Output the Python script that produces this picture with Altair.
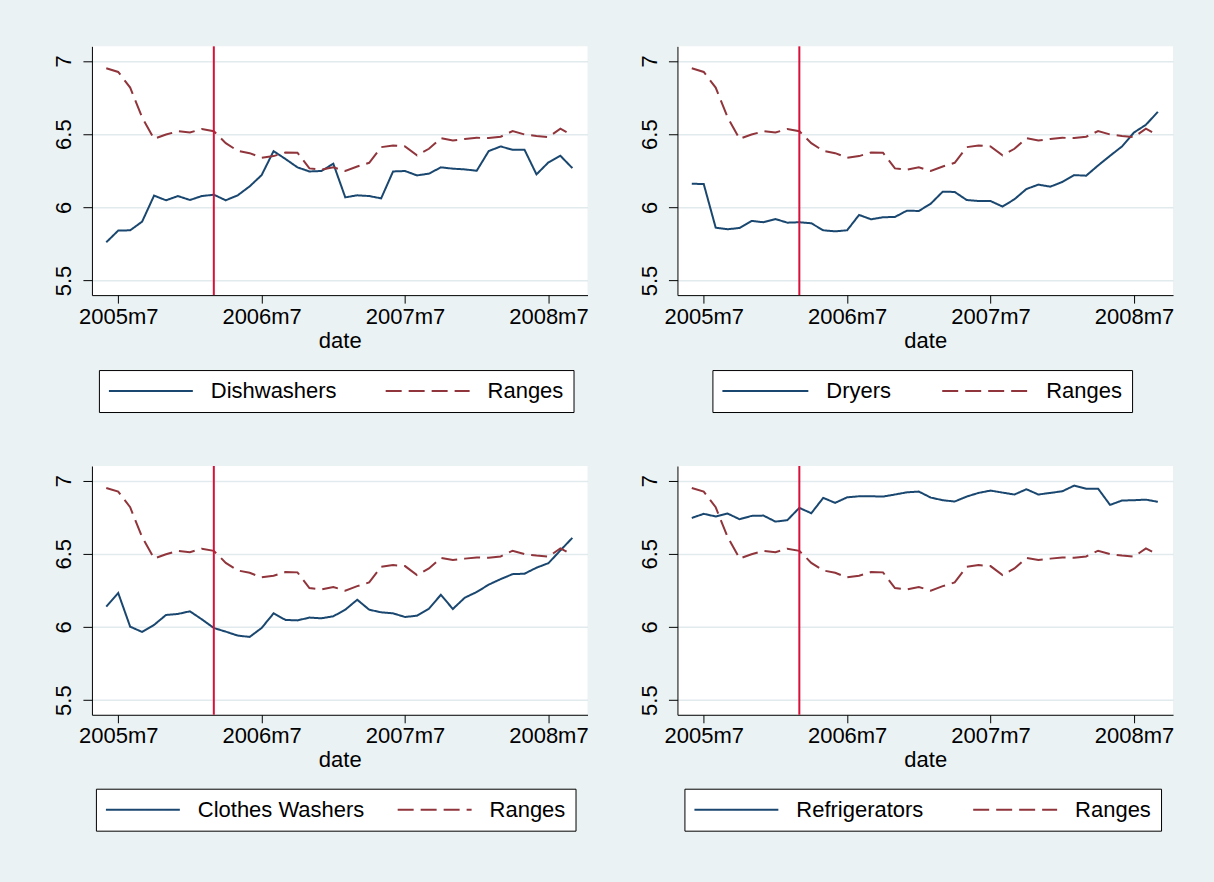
import altair as alt
import pandas as pd

# Stata monthly date codes (months since 1960m1): 2005m6 ... 2008m9
months = list(range(545, 585))
event_month = 554  # 2006m3

x_ticks = [546, 558, 570, 582]   # 2005m7, 2006m7, 2007m7, 2008m7
y_ticks = [5.5, 6, 6.5, 7]

# log price series
ranges = [6.950, 6.925, 6.818, 6.614, 6.468, 6.497, 6.520, 6.511, 6.535, 6.520,
          6.438, 6.386, 6.370, 6.339, 6.350, 6.375, 6.373, 6.266, 6.257, 6.273,
          6.248, 6.279, 6.304, 6.411, 6.423, 6.416, 6.355, 6.400, 6.472, 6.457,
          6.467, 6.475, 6.473, 6.482, 6.521, 6.498, 6.488, 6.480, 6.537, 6.493]

dishwashers = [5.761, 5.841, 5.843, 5.902, 6.080, 6.048, 6.077, 6.050, 6.077, 6.086,
               6.048, 6.082, 6.143, 6.220, 6.384, 6.330, 6.273, 6.245, 6.248, 6.298,
               6.068, 6.082, 6.077, 6.061, 6.245, 6.248, 6.218, 6.230, 6.273, 6.264,
               6.259, 6.250, 6.384, 6.416, 6.393, 6.393, 6.225, 6.307, 6.352, 6.268]

dryers = [6.161, 6.159, 5.861, 5.850, 5.859, 5.907, 5.898, 5.920, 5.895, 5.898,
          5.891, 5.843, 5.836, 5.843, 5.948, 5.918, 5.932, 5.934, 5.977, 5.975,
          6.025, 6.107, 6.105, 6.050, 6.043, 6.043, 6.005, 6.055, 6.125, 6.155,
          6.141, 6.173, 6.220, 6.216, 6.286, 6.352, 6.416, 6.511, 6.564, 6.652]

clothes_washers = [6.139, 6.232, 6.002, 5.966, 6.014, 6.082, 6.089, 6.107, 6.052, 5.993,
                   5.968, 5.941, 5.932, 5.993, 6.093, 6.048, 6.045, 6.064, 6.059, 6.073,
                   6.118, 6.186, 6.118, 6.100, 6.093, 6.068, 6.077, 6.125, 6.220, 6.123,
                   6.200, 6.239, 6.289, 6.327, 6.361, 6.364, 6.405, 6.436, 6.523, 6.609]

refrigerators = [6.745, 6.773, 6.755, 6.775, 6.736, 6.759, 6.761, 6.720, 6.730, 6.814,
                 6.777, 6.882, 6.848, 6.886, 6.893, 6.893, 6.891, 6.905, 6.920, 6.925,
                 6.884, 6.866, 6.857, 6.891, 6.916, 6.932, 6.918, 6.905, 6.941, 6.905,
                 6.916, 6.927, 6.966, 6.945, 6.945, 6.834, 6.864, 6.866, 6.870, 6.855]

NAVY = "#1A476F"
MAROON = "#90353B"
RED = "#D8113A"
BG = "#EAF2F3"
FONT = "Liberation Sans"

W, H = 496, 249

# legend key: a horizontal segment drawn with a small nominal symbol size,
# so the legend row stays one text line tall
KEY_SIZE = 196               # sqrt -> 14 px nominal extent
KEY_HALF = 7                 # sqrt(KEY_SIZE) / 2
ROW = 22                     # legend entry slot (label font size)


def panel(name, values, legend_x, legend_y, col_pad, key_len):
    df = pd.DataFrame({
        "month": months * 2,
        "value": values + ranges,
        "series": [name] * len(months) + ["Ranges"] * len(months),
    })
    domain = [name, "Ranges"]
    half = key_len / 2 / KEY_HALF
    sym_off = key_len / 2 - ROW / 2
    legend = alt.Legend(
        title=None, orient="none", legendX=legend_x, legendY=legend_y,
        direction="horizontal", columns=2, columnPadding=col_pad,
        symbolType=f"M{-half:.4f},0H{half:.4f}", symbolSize=KEY_SIZE,
        symbolStrokeWidth=2, symbolOffset=sym_off,
        labelFont=FONT, labelFontSize=22, labelColor="black", labelLimit=400,
        labelOffset=key_len / 2 + 7, padding=10,
        strokeColor="black", fillColor="white", cornerRadius=0,
    )
    lines = alt.Chart(df).mark_line(strokeWidth=2).encode(
        x=alt.X("month:Q",
                scale=alt.Scale(domain=[543.8, 585.27], nice=False, zero=False),
                axis=alt.Axis(values=x_ticks, title="date", grid=False,
                              tickSize=8, labelPadding=3, titlePadding=3,
                              labelExpr="floor(datum.value / 12) + 1960 + 'm' + (datum.value % 12 + 1)")),
        y=alt.Y("value:Q",
                scale=alt.Scale(domain=[5.4, 7.1], nice=False, zero=False),
                axis=alt.Axis(values=y_ticks, title=None, grid=True, format="~g",
                              labelAngle=270, labelAlign="center",
                              labelBaseline="alphabetic", tickSize=9, labelPadding=12)),
        color=alt.Color("series:N", scale=alt.Scale(domain=domain, range=[NAVY, MAROON]),
                        legend=legend),
        strokeDash=alt.StrokeDash("series:N",
                                  scale=alt.Scale(domain=domain, range=[[1, 0], [16, 7]]),
                                  legend=legend),
    )
    rule = alt.Chart(pd.DataFrame({"month": [event_month]})).mark_rule(
        color=RED, strokeWidth=2
    ).encode(x="month:Q")
    return alt.layer(lines, rule).properties(width=W, height=H)


p1 = panel("Dishwashers", dishwashers, 7, 324, 45, 84)
p2 = panel("Dryers", dryers, 35, 324, 46, 86)
p3 = panel("Clothes Washers", clothes_washers, 4, 323, 29, 74)
p4 = panel("Refrigerators", refrigerators, 7, 323, 45, 84)


def indep(c):
    return c.resolve_scale(color="independent", strokeDash="independent").resolve_legend(
        color="independent", strokeDash="independent")


top = indep(alt.hconcat(p1, p2, spacing=50))
bottom = indep(alt.hconcat(p3, p4, spacing=50))

chart = indep(alt.vconcat(top, bottom, spacing=52)).configure(
    background=BG,
    padding={"left": 53, "top": 45, "right": 40, "bottom": 50},
).configure_view(
    fill="white", strokeWidth=0
).configure_axis(
    labelFont=FONT, labelFontSize=22, labelColor="black",
    titleFont=FONT, titleFontSize=22, titleFontWeight="normal", titleColor="black",
    domainColor="black", domainWidth=1, tickColor="black", tickWidth=1,
    gridColor="#E1EAED", gridWidth=1.5,
)

chart.save("out.html", embed_options={"renderer": "svg", "actions": False})
